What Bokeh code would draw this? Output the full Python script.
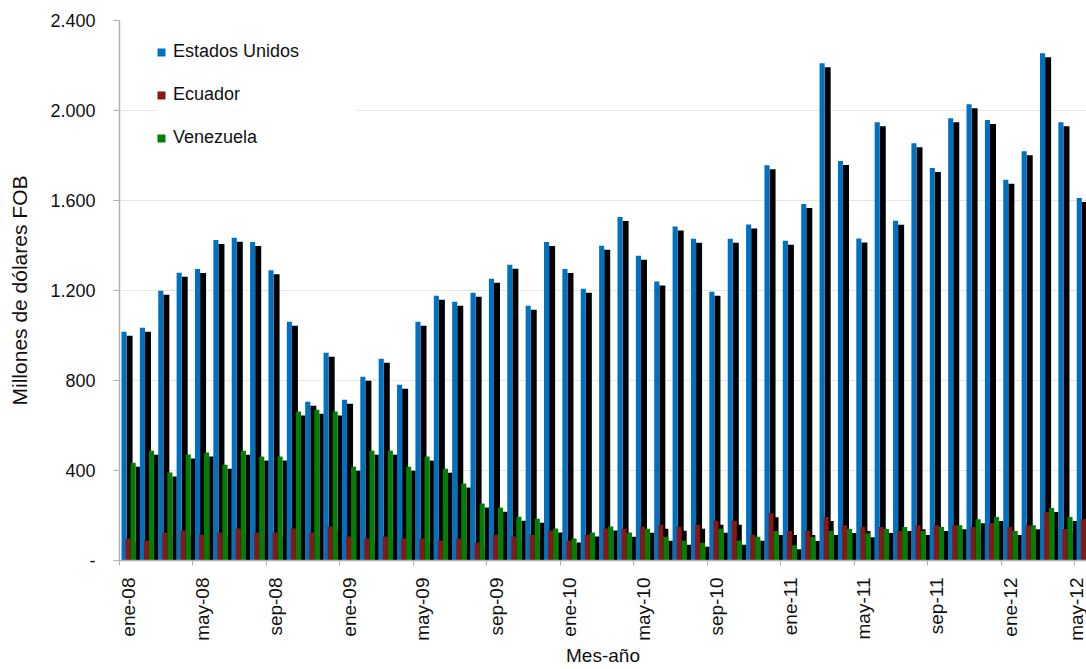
import math
from bokeh.plotting import figure
from bokeh.models import Range1d, LinearAxis, FixedTicker, Legend, LegendItem, ColumnDataSource
from bokeh.embed import file_html
from bokeh.resources import INLINE

# ---------------- data ----------------
month_abbr = ["ene", "feb", "mar", "abr", "may", "jun", "jul", "ago", "sep", "oct", "nov", "dic"]
years = ["08", "09", "10", "11", "12"]
months = [f"{m}-{y}" for y in years for m in month_abbr][:53]   # ene-08 .. may-12

estados_unidos = [1017, 1035, 1199, 1279, 1296, 1425, 1434, 1416, 1290,
                  1061, 706, 923, 715, 817, 897, 781, 1061, 1177,
                  1150, 1190, 1252, 1314, 1132, 1416, 1296, 1208, 1399,
                  1527, 1355, 1240, 1484, 1430, 1195, 1430, 1493, 1757,
                  1421, 1585, 2210, 1776, 1431, 1948, 1510, 1855,
                  1745, 1966, 2028, 1958, 1692, 1819, 2255, 1948, 1611]
ecuador = [98, 89, 124, 133, 115, 124, 142, 124, 124,
           142, 124, 151, 107, 98, 107, 98, 98, 89,
           98, 80, 115, 107, 115, 133, 89, 115, 142,
           141, 150, 159, 150, 159, 177, 177, 114, 210,
           131, 131, 193, 157, 149, 149, 131, 157,
           157, 157, 149, 166, 149, 157, 215, 140, 183]
venezuela = [435, 488, 391, 471, 480, 426, 488, 462, 462,
             662, 670, 662, 417, 488, 488, 417, 462, 408,
             342, 253, 235, 195, 186, 142, 98, 124, 151,
             123, 141, 106, 88, 79, 141, 88, 106, 131,
             68, 104, 131, 140, 121, 140, 149, 131,
             149, 157, 183, 193, 131, 157, 233, 193, 243]

y_ticks = [0, 400, 800, 1200, 1600, 2000, 2400]
y_labels = ["-", "400", "800", "1.200", "1.600", "2.000", "2.400"]

# ---------------- layout ----------------
W, H = 1086, 669
LEFT, TOP, BOTTOM = 119, 20, 109
frame_w = W - LEFT
PX_PER_MONTH = 18.37
x_end = frame_w / PX_PER_MONTH
frame_h = H - TOP - BOTTOM
DROP = 4 * 2400 / frame_h   # shadow drop of 4 px
u = 1.0 / PX_PER_MONTH      # one pixel in x data units

idx = list(range(len(months)))

p = figure(width=W, height=H, output_backend="svg", toolbar_location=None,
           x_range=Range1d(0, x_end), y_range=Range1d(0, 2400),
           x_axis_type=None, min_border_left=LEFT, min_border_right=0,
           min_border_top=TOP, min_border_bottom=BOTTOM)
p.outline_line_color = None
p.background_fill_color = "white"
p.border_fill_color = "white"

BLUE, RED, GREEN = "#0070c0", "#8a1717", "#008000"

def bars(vals, left_px, width_px, color, drop=0.0):
    src = ColumnDataSource(dict(x=[i + (left_px + width_px / 2) * u for i in idx],
                                top=[v - drop for v in vals]))
    return p.vbar(x="x", top="top", bottom=0, width=width_px * u, source=src,
                  fill_color=color, line_color=None)

bars(estados_unidos, 7.1, 6.0, "black", DROP)
r_us = bars(estados_unidos, 2.0, 5.1, BLUE)
bars(ecuador, 11.1, 5.0, "black", DROP)
r_ec = bars(ecuador, 6.1, 5.0, RED)
bars(venezuela, 16.2, 4.2, "black", DROP)
r_ve = bars(venezuela, 11.1, 5.1, GREEN)

# ---------------- axes ----------------
FONT = "Liberation Sans"
p.xgrid.visible = False
p.ygrid.grid_line_color = "#e6e6e6"
p.ygrid.grid_line_width = 1
p.ygrid.ticker = FixedTicker(ticks=y_ticks)

ya = p.yaxis[0]
ya.ticker = FixedTicker(ticks=y_ticks)
ya.major_label_overrides = {t: l for t, l in zip(y_ticks, y_labels)}
ya.major_label_text_font = FONT
ya.major_label_text_font_size = "18px"
ya.major_label_text_color = "#111111"
ya.major_tick_out = 6
ya.major_tick_in = 0
ya.minor_tick_line_color = None
ya.major_label_standoff = 18
ya.axis_line_color = "#b0b0b0"
ya.axis_line_width = 1.5
ya.major_tick_line_color = "#b0b0b0"
ya.axis_label = "Millones de dólares FOB"
ya.axis_label_text_font = FONT
ya.axis_label_text_font_size = "21px"
ya.axis_label_text_font_style = "normal"
ya.axis_label_text_color = "#111111"
ya.axis_label_standoff = 16

tick_pos = [i for i in idx if i % 4 == 0]
xa1 = LinearAxis(ticker=FixedTicker(ticks=tick_pos))
xa1.major_label_text_font_size = "0px"
xa1.major_label_overrides = {t: "" for t in tick_pos}
xa1.major_label_standoff = 0
xa1.major_tick_out = 5
xa1.major_tick_in = 0
xa1.minor_tick_line_color = None
xa1.axis_line_color = "#b0b0b0"
xa1.axis_line_width = 1.5
xa1.major_tick_line_color = "#b0b0b0"
p.add_layout(xa1, "below")

label_pos = [i + 0.5 for i in tick_pos]
xa2 = LinearAxis(ticker=FixedTicker(ticks=label_pos))
xa2.major_label_overrides = {i + 0.5: months[i] for i in tick_pos}
xa2.major_label_orientation = math.pi / 2
xa2.major_label_text_font = FONT
xa2.major_label_text_font_size = "19px"
xa2.major_label_text_color = "#111111"
xa2.major_label_standoff = 12
xa2.major_tick_out = 0
xa2.major_tick_in = 0
xa2.major_tick_line_color = None
xa2.minor_tick_line_color = None
xa2.axis_line_color = None
xa2.axis_label = "Mes-año"
xa2.axis_label_text_font = FONT
xa2.axis_label_text_font_size = "19px"
xa2.axis_label_text_font_style = "normal"
xa2.axis_label_text_color = "#111111"
xa2.axis_label_standoff = 1
p.add_layout(xa2, "below")

# ---------------- legend ----------------
legend = Legend(items=[LegendItem(label="Estados Unidos", renderers=[r_us]),
                       LegendItem(label="Ecuador", renderers=[r_ec]),
                       LegendItem(label="Venezuela", renderers=[r_ve])],
                location=(37, frame_h - 128), glyph_width=10, glyph_height=10,
                label_text_font=FONT, label_text_font_size="18px",
                label_text_color="#111111", label_height=21, spacing=22,
                padding=10, margin=0, label_standoff=7, label_width=184,
                border_line_color=None, background_fill_color="white",
                background_fill_alpha=1.0)
p.add_layout(legend)

open("out.html", "w").write(file_html(p, INLINE))
